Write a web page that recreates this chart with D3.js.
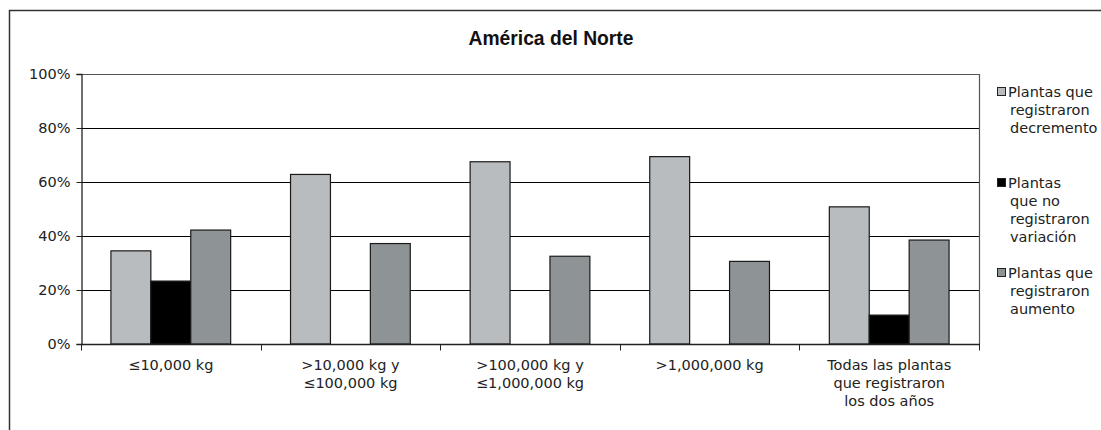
<!DOCTYPE html>
<html>
<head>
<meta charset="utf-8">
<script src="https://cdn.jsdelivr.net/npm/d3@7"></script>
<style>
  html, body { margin: 0; padding: 0; background: #fff; }
  svg { display: block; }
</style>
</head>
<body>
<svg id="chart" width="1101" height="430"></svg>
<script>
// Category labels (line-broken as they appear under the axis)
const categories = [
  ["≤10,000 kg"],
  [">10,000 kg y", "≤100,000 kg"],
  [">100,000 kg y", "≤1,000,000 kg"],
  [">1,000,000 kg"],
  ["Todas las plantas", "que registraron", "los dos años"]
];

// Share of plants (%) per size class
const decremento = [34.5, 62.8, 67.5, 69.4, 50.8];
const sinVariacion = [23.3, 0, 0, 0, 10.7];
const aumento = [42.2, 37.2, 32.5, 30.6, 38.5];

const seriesNames = [
  ["Plantas que", "registraron", "decremento"],
  ["Plantas", "que no", "registraron", "variación"],
  ["Plantas que", "registraron", "aumento"]
];
const seriesColors = ["#b8bcbe", "#000000", "#8e9395"];
const seriesValues = [decremento, sinVariacion, aumento];

const yTicks = [0, 20, 40, 60, 80, 100];
const title = "América del Norte";

const svg = d3.select("#chart");
const font = "'DejaVu Sans', sans-serif";

const plot = { left: 81, right: 979, top: 74, bottom: 344 };

// Outer frame of the chart area
svg.append("path")
  .attr("d", "M9.5,430 L9.5,10.5 L1101,10.5")
  .attr("fill", "none").attr("stroke", "#333").attr("stroke-width", 1.5);

// Title
svg.append("text")
  .attr("x", 551).attr("y", 45)
  .attr("text-anchor", "middle")
  .attr("font-family", "'Liberation Sans', Arial, sans-serif")
  .attr("font-weight", "bold").attr("font-size", 19.3)
  .attr("fill", "#111")
  .text(title);

const keys = categories.map((c, i) => i);
const x0 = d3.scaleBand().domain(keys).range([plot.left, plot.right]).paddingInner(0).paddingOuter(0);
const bw = x0.bandwidth();
const barW = bw / 4.5;
const x1 = d3.scaleBand().domain([0, 1, 2])
  .range([(bw - 3 * barW) / 2, (bw + 3 * barW) / 2]).padding(0);
const y = d3.scaleLinear().domain([0, 100]).range([plot.bottom, plot.top]);

// Gridlines
svg.append("g").selectAll("line")
  .data(yTicks.filter(t => t > 0 && t < 100))
  .join("line")
  .attr("x1", plot.left).attr("x2", plot.right)
  .attr("y1", d => Math.round(y(d)) + 0.5).attr("y2", d => Math.round(y(d)) + 0.5)
  .attr("stroke", "#000").attr("stroke-width", 1);

// Plot border top and right
svg.append("path")
  .attr("d", `M${plot.left},${plot.top + 0.5} L${plot.right + 0.5},${plot.top + 0.5} L${plot.right + 0.5},${plot.bottom}`)
  .attr("fill", "none").attr("stroke", "#555").attr("stroke-width", 1.2);

// Bars
const groups = svg.append("g").selectAll("g")
  .data(keys).join("g")
  .attr("transform", d => `translate(${x0(d)},0)`);

groups.selectAll("rect")
  .data(ci => seriesValues.map((vals, si) => ({ si, v: vals[ci] })).filter(d => d.v > 0))
  .join("rect")
  .attr("x", d => x1(d.si))
  .attr("width", x1.bandwidth())
  .attr("y", d => y(d.v))
  .attr("height", d => y(0) - y(d.v))
  .attr("fill", d => seriesColors[d.si])
  .attr("stroke", "#1a1a1a").attr("stroke-width", 1.2);

// Y axis
const yAxis = d3.axisLeft(y).tickValues(yTicks).tickFormat(d => d + "%").tickSize(5).tickPadding(6);
const yg = svg.append("g").attr("transform", `translate(${plot.left + 0.5},0)`).call(yAxis);
yg.select(".domain").attr("stroke", "#222").attr("stroke-width", 1.3);
yg.selectAll(".tick line").attr("stroke", "#222");
yg.selectAll(".tick text").attr("font-family", font).attr("font-size", 14.5).attr("fill", "#222");

// X axis with ticks at category boundaries
const xb = d3.scaleLinear().domain([0, categories.length]).range([plot.left, plot.right]);
const xg = svg.append("g").attr("transform", `translate(0,${plot.bottom + 0.5})`);
xg.append("line").attr("x1", plot.left).attr("x2", plot.right + 1)
  .attr("stroke", "#222").attr("stroke-width", 1.3);
xg.selectAll("line.tk").data(d3.range(categories.length + 1)).join("line")
  .attr("class", "tk")
  .attr("x1", d => Math.round(xb(d)) + 0.5).attr("x2", d => Math.round(xb(d)) + 0.5)
  .attr("y1", 0).attr("y2", 6)
  .attr("stroke", "#222");

// Category labels
const labels = svg.append("g").selectAll("text")
  .data(keys).join("text")
  .attr("x", d => x0(d) + bw / 2)
  .attr("y", 370)
  .attr("text-anchor", "middle")
  .attr("font-family", font).attr("font-size", 14.5).attr("fill", "#222");
labels.selectAll("tspan")
  .data(d => categories[d].map((line, i) => ({ line, i, cx: x0(d) + bw / 2 })))
  .join("tspan")
  .attr("x", d => d.cx)
  .attr("dy", d => d.i === 0 ? 0 : 18.2)
  .text(d => d.line);

// Legend
const legendTop = [92, 183, 273];
const leg = svg.append("g").selectAll("g")
  .data(seriesNames.map((n, i) => i)).join("g");
leg.append("rect")
  .attr("x", 997.5).attr("y", d => legendTop[d] - 4.5)
  .attr("width", 8).attr("height", 8)
  .attr("fill", d => seriesColors[d])
  .attr("stroke", "#222").attr("stroke-width", 1);
const lt = leg.append("text")
  .attr("font-family", font).attr("font-size", 14.5).attr("fill", "#222");
lt.selectAll("tspan")
  .data(d => seriesNames[d].map((line, i) => ({ line, i, top: legendTop[d] })))
  .join("tspan")
  .attr("x", d => d.i === 0 ? 1008 : 1010)
  .attr("y", d => d.top + 5 + d.i * 17.9)
  .text(d => d.line);
</script>
</body>
</html>
